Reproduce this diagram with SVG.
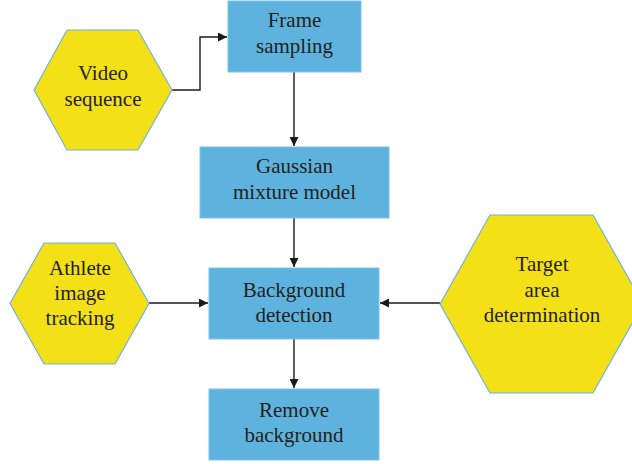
<svg xmlns="http://www.w3.org/2000/svg" width="632" height="464" viewBox="0 0 632 464">
  <style>
    .box { fill: #5db3de; stroke: #7cc2e6; stroke-width: 1; }
    .hex { fill: #f4e016; stroke: #6fb4dc; stroke-width: 1.2; }
    .lbl { font-family: "Liberation Serif", "Times New Roman", serif; font-size: 21px; fill: #231f20; text-anchor: middle; }
    .edge { fill: none; stroke: #1a1a1a; stroke-width: 1.4; }
  </style>
  <defs>
    <marker id="arrow" viewBox="0 0 10 10" refX="10" refY="5" markerWidth="9" markerHeight="9" markerUnits="userSpaceOnUse" orient="auto">
      <path d="M0,0 L10,5 L0,10 Z" fill="#1a1a1a"/>
    </marker>
  </defs>
  <rect width="632" height="464" fill="#ffffff"/>

  <g id="connectors">
    <polyline class="edge" points="172,90 200,90 200,37 227,37" marker-end="url(#arrow)"/>
    <line class="edge" x1="294" y1="72" x2="294" y2="146" marker-end="url(#arrow)"/>
    <line class="edge" x1="294" y1="218" x2="294" y2="267" marker-end="url(#arrow)"/>
    <line class="edge" x1="294" y1="339" x2="294" y2="388" marker-end="url(#arrow)"/>
    <line class="edge" x1="149" y1="303" x2="208" y2="303" marker-end="url(#arrow)"/>
    <line class="edge" x1="440" y1="303" x2="380" y2="303" marker-end="url(#arrow)"/>
  </g>

  <g id="frame-sampling">
    <rect class="box" x="228" y="1" width="133" height="71"/>
    <text class="lbl" x="294.5" y="27">Frame</text>
    <text class="lbl" x="294.5" y="53">sampling</text>
  </g>

  <g id="video-sequence">
    <polygon class="hex" points="34,90 67,30 138,30 172,90 138,150 67,150"/>
    <text class="lbl" x="103" y="80">Video</text>
    <text class="lbl" x="103" y="106">sequence</text>
  </g>

  <g id="gaussian-mixture-model">
    <rect class="box" x="200" y="147" width="189" height="71"/>
    <text class="lbl" x="294.5" y="173">Gaussian</text>
    <text class="lbl" x="294.5" y="199">mixture model</text>
  </g>

  <g id="athlete-image-tracking">
    <polygon class="hex" points="10,303.5 44,243 115,243 149,303.5 115,364 44,364"/>
    <text class="lbl" x="80" y="275">Athlete</text>
    <text class="lbl" x="80" y="300">image</text>
    <text class="lbl" x="80" y="325">tracking</text>
  </g>

  <g id="background-detection">
    <rect class="box" x="209" y="268" width="170" height="71"/>
    <text class="lbl" x="294" y="297">Background</text>
    <text class="lbl" x="294" y="322">detection</text>
  </g>

  <g id="target-area-determination">
    <polygon class="hex" points="440,304 490,215 593,215 643,304 593,393 490,393"/>
    <text class="lbl" x="542" y="271">Target</text>
    <text class="lbl" x="542" y="297">area</text>
    <text class="lbl" x="542" y="322">determination</text>
  </g>

  <g id="remove-background">
    <rect class="box" x="209" y="389" width="170" height="71"/>
    <text class="lbl" x="294" y="417">Remove</text>
    <text class="lbl" x="294" y="442">background</text>
  </g>
</svg>
